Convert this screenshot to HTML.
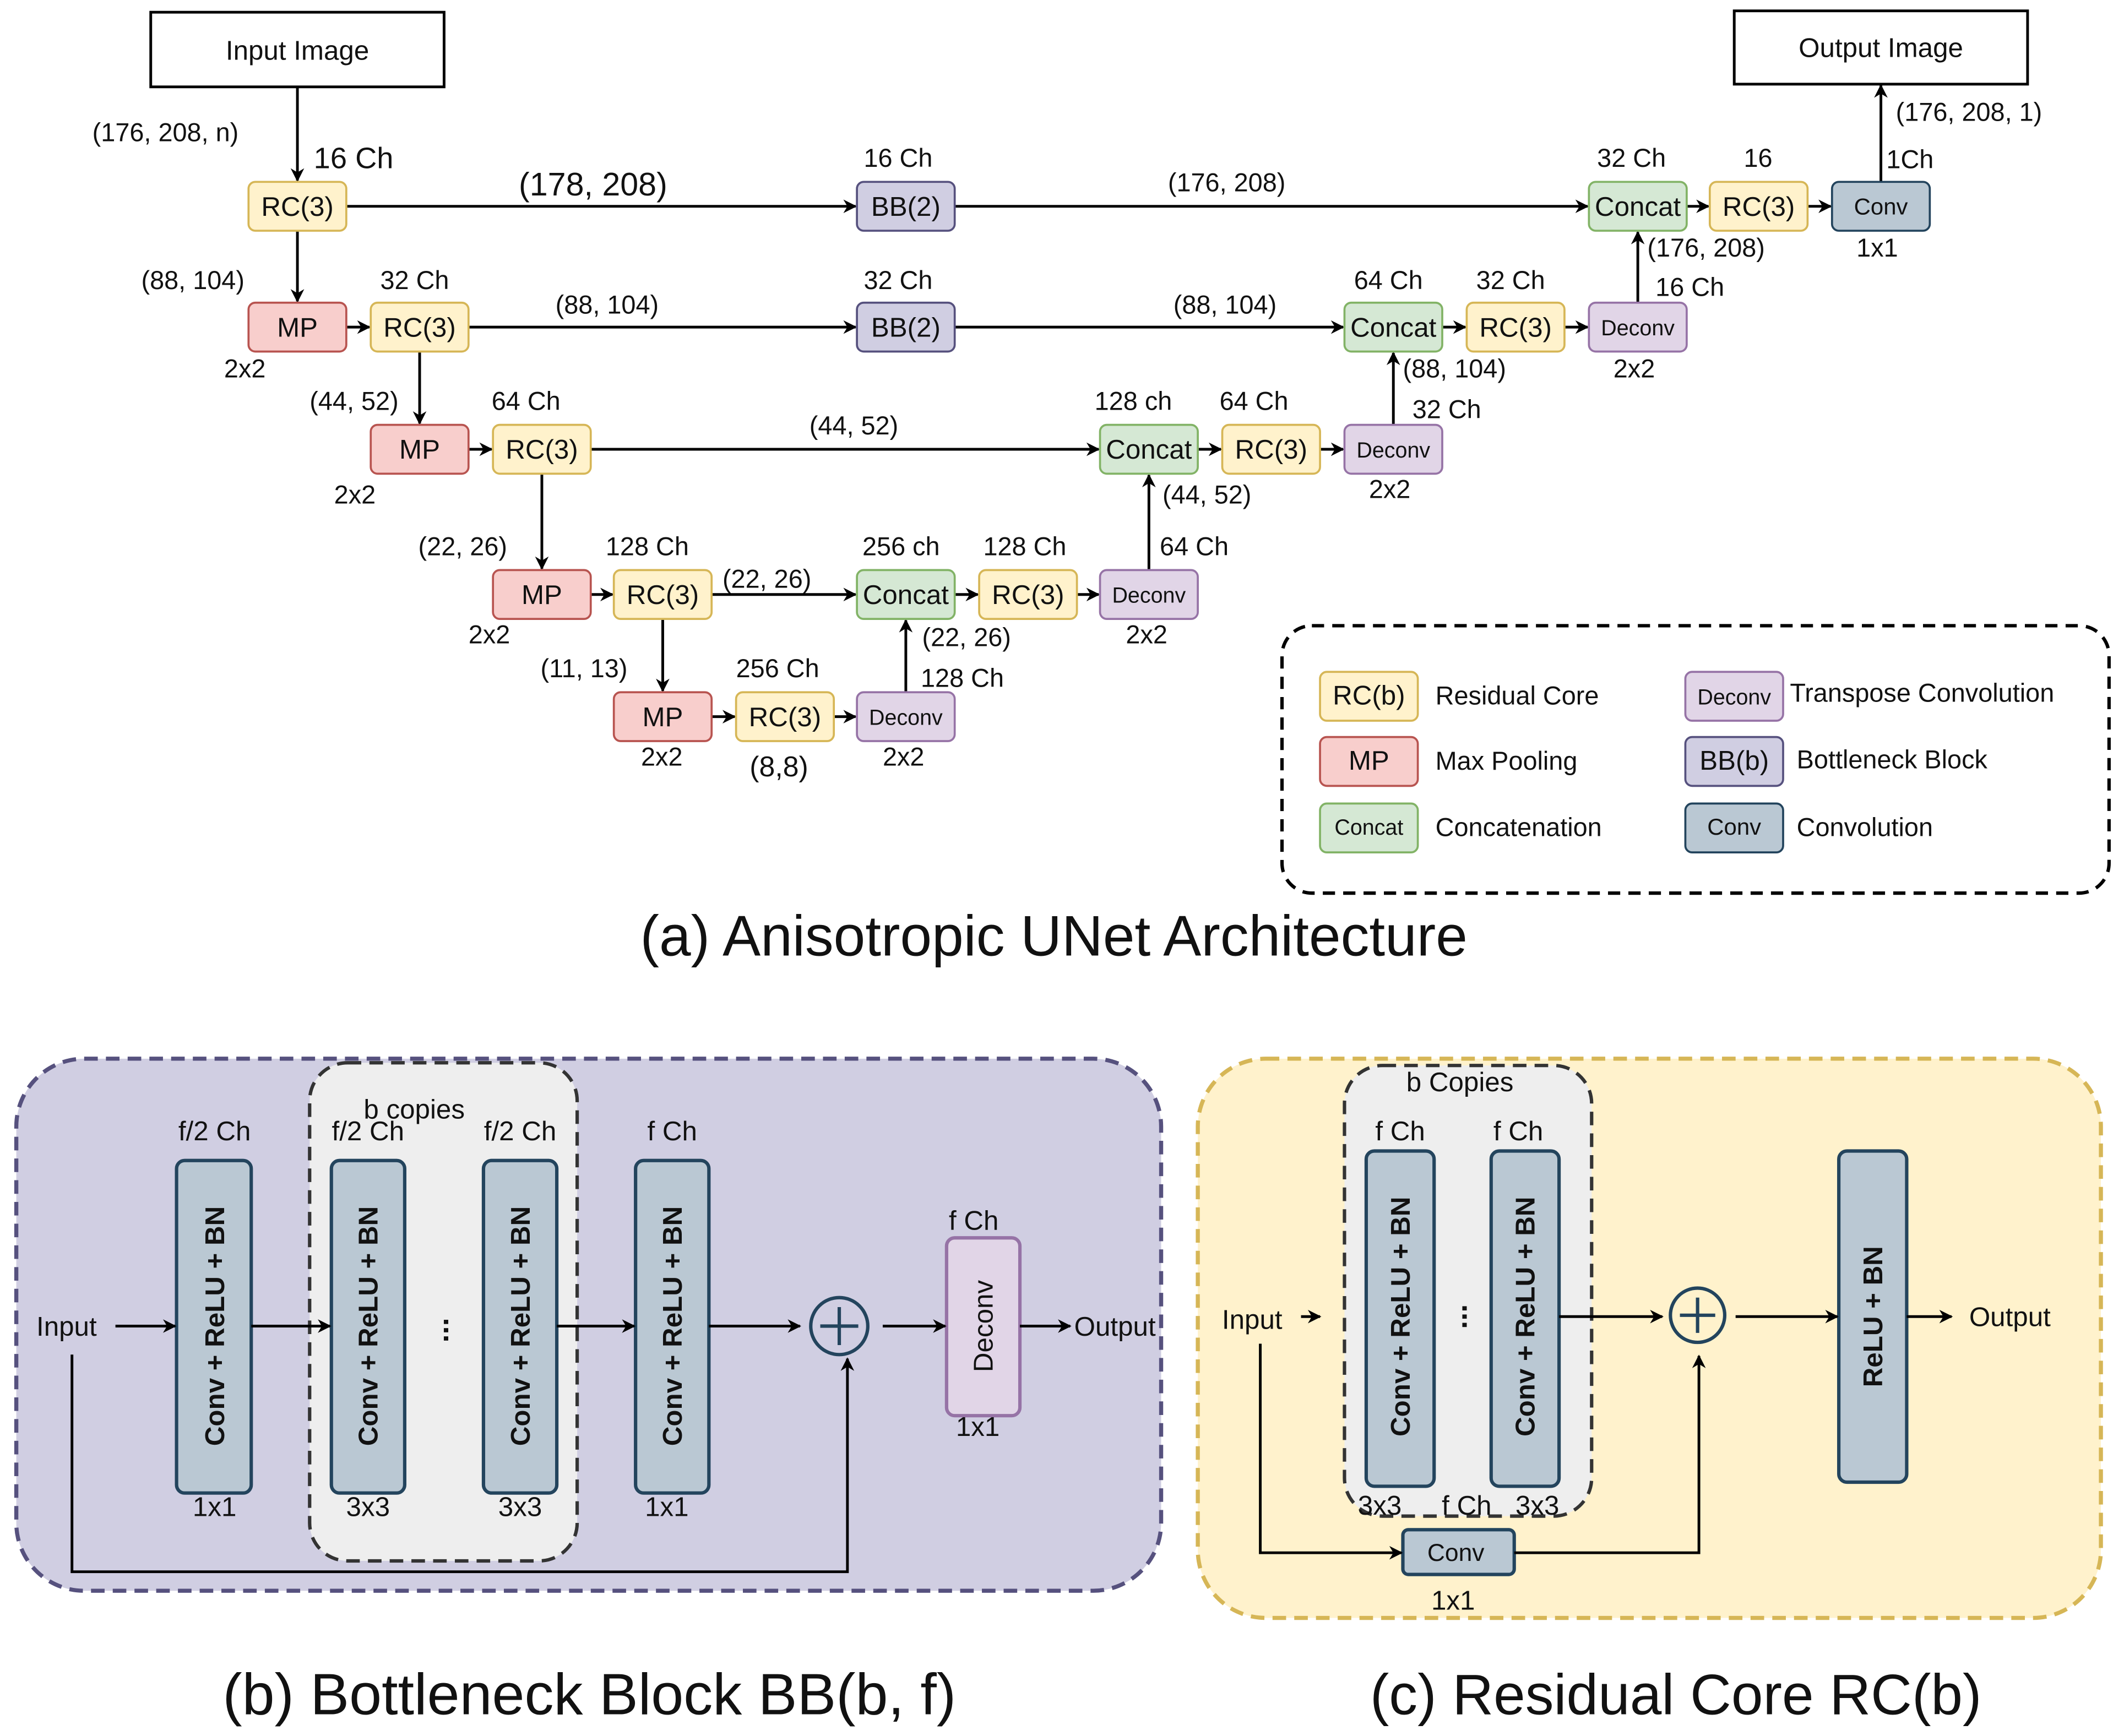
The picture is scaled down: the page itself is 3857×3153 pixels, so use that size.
<!DOCTYPE html>
<html><head><meta charset="utf-8"><style>html,body{margin:0;padding:0;background:#fff}svg{display:block}text{font-family:"Liberation Sans",sans-serif;fill:#111}</style></head><body>
<svg width="3857" height="3153" viewBox="0 0 1564 1279" preserveAspectRatio="none" xmlns="http://www.w3.org/2000/svg">
<defs>
<marker id="a" markerWidth="10" markerHeight="10" refX="9" refY="5" orient="auto" markerUnits="userSpaceOnUse"><path d="M0,0 L10,5 L0,10 L3,5 z" fill="#000"/></marker>
</defs>
<g stroke="#000" stroke-width="2" fill="none" marker-end="url(#a)">
<path d="M219,64 V133"/><path d="M219,170 V222"/><path d="M309,259 V312"/><path d="M399,349 V419"/><path d="M488,456 V509"/>
<path d="M667,510 V457"/><path d="M846,420 V350"/><path d="M1026,313 V260"/><path d="M1206,223 V171"/><path d="M1385,134 V63"/>
<path d="M255,152 H630"/><path d="M703,152 H1169"/><path d="M1242,152 H1258"/><path d="M1331,152 H1348"/>
<path d="M255,241 H272"/><path d="M345,241 H630"/><path d="M703,241 H989"/><path d="M1062,241 H1079"/><path d="M1152,241 H1169"/>
<path d="M345,331 H362"/><path d="M435,331 H809"/><path d="M882,331 H899"/><path d="M972,331 H989"/>
<path d="M435,438 H451"/><path d="M524,438 H630"/><path d="M703,438 H720"/><path d="M793,438 H809"/>
<path d="M524,528 H541"/><path d="M614,528 H630"/>
</g>
<rect x="111" y="9" width="216" height="55" fill="#fff" stroke="#000" stroke-width="2"/>
<text x="219" y="44" font-size="20" text-anchor="middle">Input Image</text>
<rect x="1277" y="8" width="216" height="54" fill="#fff" stroke="#000" stroke-width="2"/>
<text x="1385" y="42" font-size="20" text-anchor="middle">Output Image</text>
<g font-size="20" text-anchor="middle" stroke-width="1.5">
<g fill="#fff2cc" stroke="#d6b656">
<rect x="183" y="134" width="72" height="36" rx="5"/><rect x="1259" y="134" width="72" height="36" rx="5"/>
<rect x="273" y="223" width="72" height="36" rx="5"/><rect x="1080" y="223" width="72" height="36" rx="5"/>
<rect x="363" y="313" width="72" height="36" rx="5"/><rect x="900" y="313" width="72" height="36" rx="5"/>
<rect x="452" y="420" width="72" height="36" rx="5"/><rect x="721" y="420" width="72" height="36" rx="5"/>
<rect x="542" y="510" width="72" height="36" rx="5"/><rect x="972" y="495" width="72" height="36" rx="5"/>
</g>
<g fill="#f8cecc" stroke="#b85450">
<rect x="183" y="223" width="72" height="36" rx="5"/><rect x="273" y="313" width="72" height="36" rx="5"/>
<rect x="363" y="420" width="72" height="36" rx="5"/><rect x="452" y="510" width="72" height="36" rx="5"/>
<rect x="972" y="543" width="72" height="36" rx="5"/>
</g>
<g fill="#d0cee2" stroke="#56517e">
<rect x="631" y="134" width="72" height="36" rx="5"/><rect x="631" y="223" width="72" height="36" rx="5"/>
<rect x="1241" y="543" width="72" height="36" rx="5"/>
</g>
<g fill="#d5e8d4" stroke="#82b366">
<rect x="1170" y="134" width="72" height="36" rx="5"/><rect x="990" y="223" width="72" height="36" rx="5"/>
<rect x="810" y="313" width="72" height="36" rx="5"/><rect x="631" y="420" width="72" height="36" rx="5"/>
<rect x="972" y="592" width="72" height="36" rx="5"/>
</g>
<g fill="#e1d5e7" stroke="#9673a6">
<rect x="1170" y="223" width="72" height="36" rx="5"/><rect x="990" y="313" width="72" height="36" rx="5"/>
<rect x="810" y="420" width="72" height="36" rx="5"/><rect x="631" y="510" width="72" height="36" rx="5"/>
<rect x="1241" y="495" width="72" height="36" rx="5"/>
</g>
<g fill="#bac8d3" stroke="#23445d">
<rect x="1349" y="134" width="72" height="36" rx="5"/><rect x="1241" y="592" width="72" height="36" rx="5"/>
</g>
<text x="219" y="159">RC(3)</text><text x="667" y="159">BB(2)</text><text x="1206" y="159">Concat</text><text x="1295" y="159">RC(3)</text><text x="1385" y="158" font-size="17">Conv</text>
<text x="219" y="248">MP</text><text x="309" y="248">RC(3)</text><text x="667" y="248">BB(2)</text><text x="1026" y="248">Concat</text><text x="1116" y="248">RC(3)</text><text x="1206" y="247" font-size="16">Deconv</text>
<text x="309" y="338">MP</text><text x="399" y="338">RC(3)</text><text x="846" y="338">Concat</text><text x="936" y="338">RC(3)</text><text x="1026" y="337" font-size="16">Deconv</text>
<text x="399" y="445">MP</text><text x="488" y="445">RC(3)</text><text x="667" y="445">Concat</text><text x="757" y="445">RC(3)</text><text x="846" y="444" font-size="16">Deconv</text>
<text x="488" y="535">MP</text><text x="578" y="535">RC(3)</text><text x="667" y="534" font-size="16">Deconv</text>
<text x="1008" y="519">RC(b)</text><text x="1008" y="567">MP</text><text x="1008" y="615" font-size="16">Concat</text>
<text x="1277" y="519" font-size="16">Deconv</text><text x="1277" y="567">BB(b)</text><text x="1277" y="615" font-size="17">Conv</text>
</g>
<g font-size="19">
<text x="68" y="104">(176, 208, n)</text><text x="231" y="124" font-size="22">16 Ch</text>
<text x="382" y="144" font-size="24">(178, 208)</text><text x="636" y="123">16 Ch</text><text x="860" y="141">(176, 208)</text>
<text x="1176" y="123">32 Ch</text><text x="1284" y="123">16</text><text x="1389" y="124">1Ch</text><text x="1396" y="89">(176, 208, 1)</text>
<text x="1367" y="189">1x1</text><text x="1213" y="189">(176, 208)</text><text x="1219" y="218">16 Ch</text>
<text x="104" y="213">(88, 104)</text><text x="280" y="213">32 Ch</text><text x="409" y="231">(88, 104)</text><text x="636" y="213">32 Ch</text><text x="864" y="231">(88, 104)</text>
<text x="997" y="213">64 Ch</text><text x="1087" y="213">32 Ch</text><text x="165" y="278">2x2</text><text x="1188" y="278">2x2</text>
<text x="1033" y="278">(88, 104)</text><text x="1040" y="308">32 Ch</text>
<text x="228" y="302">(44, 52)</text><text x="362" y="302">64 Ch</text><text x="596" y="320">(44, 52)</text><text x="806" y="302">128 ch</text><text x="898" y="302">64 Ch</text>
<text x="246" y="371">2x2</text><text x="1008" y="367">2x2</text><text x="856" y="371">(44, 52)</text><text x="854" y="409">64 Ch</text>
<text x="308" y="409">(22, 26)</text><text x="446" y="409">128 Ch</text><text x="532" y="433">(22, 26)</text><text x="635" y="409">256 ch</text><text x="724" y="409">128 Ch</text>
<text x="345" y="474">2x2</text><text x="829" y="474">2x2</text><text x="679" y="476">(22, 26)</text><text x="678" y="506">128 Ch</text>
<text x="398" y="499">(11, 13)</text><text x="542" y="499">256 Ch</text>
<text x="472" y="564">2x2</text><text x="552" y="572" font-size="21">(8,8)</text><text x="650" y="564">2x2</text>
<text x="1057" y="519">Residual Core</text><text x="1057" y="567">Max Pooling</text><text x="1057" y="616">Concatenation</text>
<text x="1318" y="517">Transpose Convolution</text><text x="1323" y="566">Bottleneck Block</text><text x="1323" y="616">Convolution</text>
</g>
<rect x="944" y="461" width="609" height="197" rx="22" fill="none" stroke="#000" stroke-width="2.5" stroke-dasharray="9,6"/>
<text x="776" y="704" font-size="42" text-anchor="middle">(a) Anisotropic UNet Architecture</text>

<rect x="12" y="780" width="843" height="392" rx="50" fill="#d0cee2" stroke="#56517e" stroke-width="3" stroke-dasharray="10,6"/>
<rect x="228" y="783" width="197" height="367" rx="28" fill="#eeeeee" stroke="#333" stroke-width="2.5" stroke-dasharray="10,6"/>
<g fill="#bac8d3" stroke="#23445d" stroke-width="2.5">
<rect x="130" y="855" width="55" height="245" rx="6"/><rect x="244" y="855" width="54" height="245" rx="6"/>
<rect x="356" y="855" width="54" height="245" rx="6"/><rect x="468" y="855" width="54" height="245" rx="6"/>
</g>
<rect x="697" y="912" width="54" height="131" rx="6" fill="#e1d5e7" stroke="#9673a6" stroke-width="2.5"/>
<g font-size="20" font-weight="bold" text-anchor="middle" fill="#111">
<text transform="translate(165,977) rotate(-90)">Conv + ReLU + BN</text>
<text transform="translate(278,977) rotate(-90)">Conv + ReLU + BN</text>
<text transform="translate(390,977) rotate(-90)">Conv + ReLU + BN</text>
<text transform="translate(502,977) rotate(-90)">Conv + ReLU + BN</text>
<text transform="translate(731,977) rotate(-90)" font-weight="normal">Deconv</text>
</g>
<text x="320" y="990" font-size="22" text-anchor="middle" font-weight="bold" transform="rotate(-90 320 980)">...</text>
<g stroke="#000" stroke-width="2" fill="none" marker-end="url(#a)">
<path d="M85,977 H129"/><path d="M185,977 H243"/><path d="M410,977 H467"/><path d="M522,977 H589"/><path d="M650,977 H696"/><path d="M751,977 H788"/>
<path d="M53,998 V1158 H624 V1001"/>
</g>
<circle cx="618" cy="977" r="21" fill="none" stroke="#23445d" stroke-width="2.5"/>
<path d="M604,977 H632 M618,963 V991" stroke="#23445d" stroke-width="2.5"/>
<g font-size="20" text-anchor="middle">
<text x="49" y="984">Input</text><text x="821" y="984">Output</text>
<text x="158" y="840">f/2 Ch</text><text x="271" y="840">f/2 Ch</text><text x="383" y="840">f/2 Ch</text><text x="495" y="840">f Ch</text><text x="305" y="824">b copies</text>
<text x="717" y="906">f Ch</text><text x="720" y="1058">1x1</text>
<text x="158" y="1117">1x1</text><text x="271" y="1117">3x3</text><text x="383" y="1117">3x3</text><text x="491" y="1117">1x1</text>
</g>
<rect x="882" y="780" width="665" height="412" rx="50" fill="#fff2cc" stroke="#d6b656" stroke-width="3" stroke-dasharray="10,6"/>
<rect x="990" y="785" width="182" height="332" rx="28" fill="#eeeeee" stroke="#333" stroke-width="2.5" stroke-dasharray="10,6"/>
<g fill="#bac8d3" stroke="#23445d" stroke-width="2.5">
<rect x="1006" y="848" width="50" height="247" rx="6"/><rect x="1098" y="848" width="50" height="247" rx="6"/>
<rect x="1354" y="848" width="50" height="244" rx="6"/><rect x="1033" y="1127" width="82" height="33" rx="4"/>
</g>
<g font-size="20" font-weight="bold" text-anchor="middle">
<text transform="translate(1038,970) rotate(-90)">Conv + ReLU + BN</text>
<text transform="translate(1130,970) rotate(-90)">Conv + ReLU + BN</text>
<text transform="translate(1386,970) rotate(-90)">ReLU + BN</text>
</g>
<text x="1070" y="980" font-size="22" text-anchor="middle" font-weight="bold" transform="rotate(-90 1070 970)">...</text>
<g stroke="#000" stroke-width="2" fill="none" marker-end="url(#a)">
<path d="M958,970 H972"/><path d="M1148,970 H1224"/><path d="M1278,970 H1353"/><path d="M1404,970 H1437"/>
<path d="M928,990 V1144 H1032"/><path d="M1115,1144 H1251 V999"/>
</g>
<circle cx="1250" cy="969" r="20" fill="none" stroke="#23445d" stroke-width="2.5"/>
<path d="M1237,969 H1263 M1250,956 V982" stroke="#23445d" stroke-width="2.5"/>
<g font-size="20" text-anchor="middle">
<text x="922" y="979">Input</text><text x="1480" y="977">Output</text><text x="1075" y="804">b Copies</text>
<text x="1031" y="840">f Ch</text><text x="1118" y="840">f Ch</text>
<text x="1016" y="1116">3x3</text><text x="1080" y="1116">f Ch</text><text x="1132" y="1116">3x3</text>
<text x="1072" y="1150" font-size="18">Conv</text><text x="1070" y="1186">1x1</text>
</g>
<text x="434" y="1263" font-size="43" text-anchor="middle">(b) Bottleneck Block BB(b, f)</text>
<text x="1234" y="1263" font-size="42" text-anchor="middle">(c) Residual Core RC(b)</text>
</svg>
</body></html>
